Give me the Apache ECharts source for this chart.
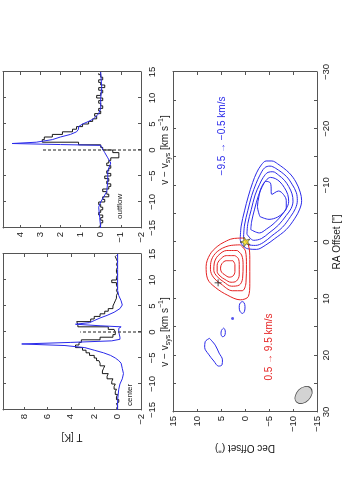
<!DOCTYPE html>
<html>
<head>
<meta charset="utf-8">
<script src="https://cdn.jsdelivr.net/npm/echarts/dist/echarts.min.js"></script>
<style>
html, body { margin: 0; padding: 0; background: #fff; overflow: hidden; }
#wrap { position: relative; width: 353px; height: 500px; overflow: hidden; }
/* the figure is drawn landscape and turned a quarter turn, like the reference */
#chart { position: absolute; left: 0; top: 0; width: 500px; height: 353px;
         transform-origin: 0 0; transform: translate(0px, 500px) rotate(-90deg); }
</style>
</head>
<body>
<div id="wrap"><div id="chart"></div></div>
<script>
// channel velocities (km/s, bin centres)
var vel = [-14.75,-14.25,-13.75,-13.25,-12.75,-12.25,-11.75,-11.25,-10.75,-10.25,
           -9.75,-9.25,-8.75,-8.25,-7.75,-7.25,-6.75,-6.25,-5.75,-5.25,
           -4.75,-4.25,-3.75,-3.25,-2.75,-2.25,-1.75,-1.25,-0.75,-0.25,
           0.25,0.75,1.25,1.75,2.25,2.75,3.25,3.75,4.25,4.75,
           5.25,5.75,6.25,6.75,7.25,7.75,8.25,8.75,9.25,9.75,
           10.25,10.75,11.25,11.75,12.25,12.75,13.25,13.75,14.25,14.75];
// observed spectra T [K]
var centerObs = [0.1,0.0,0.1,-0.1,0.1,0.0,0.2,0.1,0.3,0.2,
                 0.5,0.4,0.9,0.8,1.3,1.2,1.1,1.5,1.6,1.8,
                 2.0,2.4,2.7,3.0,3.6,3.3,3.1,1.5,0.4,0.2,
                 0.3,0.8,3.4,3.5,2.3,2.0,1.5,1.1,0.8,0.4,
                 0.3,0.2,0.1,0.1,0.0,0.1,0.0,0.1,0.1,0.5,
                 0.1,0.0,0.1,0.1,0.0,0.1,0.0,0.1,0.2,0.1];
var outflowObs = [0.1,0.0,-0.1,0.0,-0.1,0.1,0.0,-0.1,0.0,0.1,
                  -0.2,-0.1,-0.4,-0.3,-0.1,-0.4,-0.5,-0.3,-0.4,-0.2,
                  -0.5,-0.3,-0.4,-0.5,-0.3,-0.4,-0.5,-0.9,-0.9,-0.6,
                  -0.1,0.0,1.1,2.9,2.8,2.4,1.9,1.4,1.2,0.9,
                  0.6,0.4,0.2,0.3,0.0,0.1,-0.1,0.0,0.1,-0.1,
                  0.2,0.0,-0.1,0.1,-0.2,0.0,0.1,-0.1,0.0,0.1];
// model curves [v, T]
var centerModel = [[-15,0.0],[-13,0.0],[-11,-0.1],[-10,-0.2],[-9,-0.4],[-8,-0.5],[-7,-0.4],[-6,-0.3],
                   [-5.5,-0.1],[-5,0.2],[-4.5,0.6],[-4,1.2],[-3.5,2.0],[-3,2.8],[-2.6,4.5],[-2.3,8.2],
                   [-2.0,4.0],[-1.7,0.5],[-1.4,-0.2],[-1.0,-0.2],[0,-0.1],[0.7,-0.1],[1.0,-0.3],[1.2,1.5],
                   [1.5,3.6],[1.8,2.4],[2.2,2.0],[2.7,1.5],[3.2,0.9],[3.8,0.3],[4.5,-0.2],[5.2,-0.4],
                   [6,-0.3],[7,-0.1],[8,0.0],[10,0.0],[12,0.0],[15,0.0]];
var outflowModel = [[-15,0.0],[-13,0.05],[-11,0.1],[-10,0.0],[-9,-0.15],[-8,-0.3],[-6,-0.35],[-4,-0.35],
                    [-3,-0.45],[-2.5,-0.5],[-1.5,-0.35],[-0.5,-0.2],[0.5,-0.05],[0.9,0.0],[1.05,2.0],
                    [1.25,4.4],[1.5,3.2],[2.0,2.4],[2.5,2.0],[3.0,1.5],[3.5,1.2],[4.0,1.1],[4.5,1.1],
                    [5.0,0.9],[5.5,0.6],[6.0,0.35],[7.0,0.1],[8.0,0.0],[10,0.0],[12,-0.05],[15,0.0]];
var centerDash = [[0,-2],[0,3.2]];
var outflowDash = [[0,-2],[0,2.9]];

// map contours [RA offset, Dec offset] (arcsec)
var blueLevels = [
  [[-0.4,1.0],[-2.8,0.8],[-5.5,0.1],[-8.1,-0.7],[-10.5,-1.6],[-12.2,-2.4],[-13.6,-3.4],[-14.3,-4.4],[-14.3,-5.6],[-13.8,-6.8],[-12.2,-9.2],[-10.6,-10.6],[-8.8,-11.5],[-7.3,-11.8],[-5.8,-11.4],[-4.2,-10.4],[-2.2,-8.6],[-0.6,-6.2],[0.6,-4.2],[1.3,-2.4],[1.2,-0.6],[0.5,0.6],[-0.4,1.0]],
  [[-0.8,0.3],[-3.0,0.1],[-5.6,-0.6],[-8.2,-1.4],[-10.3,-2.3],[-11.8,-3.1],[-13.1,-4.1],[-13.4,-5.2],[-13.0,-6.4],[-11.6,-8.6],[-10.2,-9.8],[-8.7,-10.7],[-7.3,-10.9],[-5.9,-10.5],[-4.5,-9.5],[-2.6,-7.8],[-1.1,-5.6],[0.1,-3.8],[0.6,-2.2],[0.4,-0.6],[-0.8,0.3]],
  [[-1.4,-0.4],[-3.3,-0.6],[-5.7,-1.3],[-8.3,-2.1],[-10.1,-3.0],[-11.4,-3.8],[-12.3,-4.8],[-12.4,-5.8],[-11.8,-7.0],[-10.9,-8.2],[-9.8,-9.1],[-8.5,-9.8],[-7.2,-10.0],[-5.9,-9.6],[-4.7,-8.6],[-3.0,-7.0],[-1.6,-5.0],[-0.6,-3.4],[-0.3,-1.8],[-1.4,-0.4]],
  [[-2.2,-1.2],[-3.7,-1.4],[-5.8,-2.0],[-8.2,-2.8],[-9.8,-3.6],[-10.9,-4.4],[-11.4,-5.3],[-11.2,-6.3],[-10.6,-7.3],[-9.6,-8.2],[-8.4,-8.9],[-7.1,-9.1],[-5.9,-8.6],[-4.8,-7.7],[-3.4,-6.2],[-2.3,-4.5],[-1.6,-3.0],[-2.2,-1.2]],
  [[-4.5,-3.1],[-6.3,-2.6],[-8.0,-2.9],[-9.6,-3.4],[-10.7,-4.4],[-10.4,-5.3],[-8.4,-5.6],[-9.0,-7.0],[-8.4,-8.0],[-7.3,-8.6],[-6.0,-8.6],[-5.2,-8.0],[-4.4,-6.8],[-4.0,-5.0],[-4.5,-3.1]]
];
var blueBlobs = [
  [[10.5,0.6],[10.9,1.1],[11.6,1.2],[12.3,1.0],[12.6,0.5],[12.2,0.1],[11.4,0.0],[10.7,0.2],[10.5,0.6]],
  [[15.2,4.5],[15.6,4.9],[16.2,5.0],[16.7,4.7],[16.6,4.3],[16.0,4.1],[15.4,4.2],[15.2,4.5]],
  [[17.0,7.4],[17.6,8.3],[18.6,8.4],[19.8,7.6],[21.0,6.5],[21.9,5.5],[21.7,4.8],[20.8,4.7],[19.6,5.4],[18.2,6.2],[17.0,7.4]]
];
var blueDot = [[13.5,2.6]];
var redLevels = [
  [[-0.7,0.4],[-0.6,2.5],[0.0,4.3],[0.8,5.8],[2.2,7.3],[4.3,8.1],[6.5,7.8],[8.0,6.2],[9.4,3.6],[10.2,1.0],[9.6,-0.7],[7.3,-1.0],[3.1,-1.0],[0.5,-0.7],[-0.7,0.4]],
  [[0.5,1.0],[0.7,3.5],[1.7,5.8],[3.2,7.0],[4.8,7.2],[6.2,6.6],[7.4,5.0],[8.6,2.6],[8.6,0.6],[7.2,-0.2],[4.0,-0.3],[1.6,-0.1],[0.5,1.0]],
  [[1.5,1.6],[1.5,3.8],[2.4,5.6],[3.7,6.4],[5.0,6.5],[6.1,5.8],[7.0,4.5],[7.8,2.8],[7.6,1.2],[6.4,0.5],[4.0,0.4],[2.3,0.7],[1.5,1.6]],
  [[2.4,2.1],[2.4,3.9],[3.1,5.2],[4.1,5.8],[5.2,5.8],[6.0,5.2],[6.6,4.2],[7.1,2.9],[6.9,1.8],[5.8,1.2],[4.0,1.2],[2.9,1.4],[2.4,2.1]],
  [[3.3,2.5],[3.3,3.9],[3.8,4.8],[4.6,5.1],[5.3,4.9],[5.8,4.2],[6.2,3.3],[6.0,2.5],[5.2,2.1],[4.0,2.1],[3.3,2.5]]
];
var starPos = [[0,0]];
var plusPos = [[7.2,5.6]];
var beamPos = [[27.0,-12.2]];

var FONT = 'Liberation Sans';
var BLUE = '#2a2aea';
var RED = '#e52222';
var AX = '#555';

function minus(v) { return String(v).replace('-', '\u2212'); }

function axis(o) {
    return Object.assign({
        type: 'value',
        axisLine: { show: true, onZero: false, lineStyle: { color: AX, width: 1 } },
        axisTick: { show: true, inside: true, length: 3, lineStyle: { color: AX } },
        splitLine: { show: false },
        axisLabel: { show: false }
    }, o);
}
function labels(step, margin) {
    return {
        show: true, color: '#222', fontSize: 9.5, fontFamily: FONT, margin: margin,
        formatter: function (v) {
            return Math.abs(v / step - Math.round(v / step)) < 1e-6 ? minus(v) : '';
        }
    };
}
var velName = '{a|v \u2212 v}{s|sys}{a| [km s}{p|\u22121}{a|]}';
var velNameStyle = {
    color: '#222', fontFamily: FONT,
    rich: {
        a: { fontSize: 10, lineHeight: 14, fontFamily: FONT, color: '#222' },
        s: { fontSize: 7, lineHeight: 7, verticalAlign: 'bottom', fontFamily: FONT, color: '#222' },
        p: { fontSize: 7, lineHeight: 7, verticalAlign: 'top', fontFamily: FONT, color: '#222' }
    }
};

function pairs(xs, ys) {
    return xs.map(function (x, i) { return [x, ys[i]]; });
}
function contour(pts, color, w) {
    return {
        type: 'line', xAxisIndex: 4, yAxisIndex: 4, data: pts, showSymbol: false,
        smooth: 0.35, lineStyle: { color: color, width: w }, silent: true, z: 3
    };
}

var chart = echarts.init(document.getElementById('chart'));
var series = [
    { type: 'line', xAxisIndex: 0, yAxisIndex: 0, data: pairs(vel, centerObs), step: 'middle',
      showSymbol: false, lineStyle: { color: '#000', width: 0.9 } },
    { type: 'line', xAxisIndex: 0, yAxisIndex: 0, data: centerModel, showSymbol: false,
      lineStyle: { color: BLUE, width: 1 } },
    { type: 'line', xAxisIndex: 0, yAxisIndex: 0, data: centerDash, showSymbol: false,
      lineStyle: { color: '#444', width: 1.2, type: [3, 2] } },
    { type: 'line', xAxisIndex: 2, yAxisIndex: 2, data: pairs(vel, outflowObs), step: 'middle',
      showSymbol: false, lineStyle: { color: '#000', width: 0.9 } },
    { type: 'line', xAxisIndex: 2, yAxisIndex: 2, data: outflowModel, showSymbol: false,
      lineStyle: { color: BLUE, width: 1 } },
    { type: 'line', xAxisIndex: 2, yAxisIndex: 2, data: outflowDash, showSymbol: false,
      lineStyle: { color: '#444', width: 1.2, type: [3, 2] } }
];
blueLevels.forEach(function (c) { series.push(contour(c, BLUE, 1)); });
blueBlobs.forEach(function (c) { series.push(contour(c, BLUE, 1)); });
redLevels.forEach(function (c) { series.push(contour(c, RED, 1)); });
series.push({ type: 'scatter', xAxisIndex: 4, yAxisIndex: 4, data: blueDot, symbol: 'circle',
              symbolSize: 3, itemStyle: { color: BLUE }, z: 4 });
series.push({ type: 'scatter', xAxisIndex: 4, yAxisIndex: 4, data: beamPos, symbol: 'circle',
              symbolSize: [20, 14], symbolRotate: -45,
              itemStyle: { color: '#c8c8c8', borderColor: '#222', borderWidth: 0.8 }, z: 4 });
series.push({ type: 'scatter', xAxisIndex: 4, yAxisIndex: 4, data: plusPos,
              symbol: 'path://M0,5L10,5M5,0L5,10', symbolSize: 7,
              itemStyle: { color: 'none', borderColor: '#222', borderWidth: 1 }, z: 5 });
series.push({ type: 'scatter', xAxisIndex: 4, yAxisIndex: 4, data: starPos,
              symbol: 'path://M50,0L61,35L98,35L68,57L79,91L50,70L21,91L32,57L2,35L39,35Z',
              symbolSize: 10, itemStyle: { color: '#f7e617', borderColor: '#333', borderWidth: 0.8 }, z: 6 });

var option = {
    animation: false,
    backgroundColor: '#fff',
    textStyle: { fontFamily: FONT },
    grid: [
        { left: 90, width: 156, top: 3, height: 138 },
        { left: 272, width: 156, top: 3, height: 138 },
        { left: 88, width: 340, top: 173, height: 144 }
    ],
    xAxis: [
        axis({ gridIndex: 0, min: -15, max: 15, interval: 5, axisLabel: labels(5, 6),
               name: velName, nameLocation: 'middle', nameGap: 15, nameTextStyle: velNameStyle }),
        axis({ gridIndex: 0, position: 'top', min: -15, max: 15, interval: 5 }),
        axis({ gridIndex: 1, min: -15, max: 15, interval: 5, axisLabel: labels(5, 6),
               name: velName, nameLocation: 'middle', nameGap: 15, nameTextStyle: velNameStyle }),
        axis({ gridIndex: 1, position: 'top', min: -15, max: 15, interval: 5 }),
        axis({ gridIndex: 2, min: -30, max: 30, interval: 5, inverse: true, axisLabel: labels(10, 4),
               name: 'RA Offset ["]', nameLocation: 'middle', nameGap: 15,
               nameTextStyle: { fontSize: 10, color: '#222', fontFamily: FONT } }),
        axis({ gridIndex: 2, position: 'top', min: -30, max: 30, interval: 5, inverse: true })
    ],
    yAxis: [
        axis({ gridIndex: 0, min: -2, max: 9.8, interval: 2, axisLabel: labels(2, 4),
               name: 'T [K]', nameLocation: 'middle', nameRotate: 90, nameGap: 22,
               nameTextStyle: { fontSize: 10, color: '#222', fontFamily: FONT } }),
        axis({ gridIndex: 0, position: 'right', min: -2, max: 9.8, interval: 2 }),
        axis({ gridIndex: 1, min: -2, max: 4.85, interval: 1, axisLabel: labels(1, 4) }),
        axis({ gridIndex: 1, position: 'right', min: -2, max: 4.85, interval: 1 }),
        axis({ gridIndex: 2, min: -15, max: 15, interval: 5, axisLabel: labels(5, 4),
               name: 'Dec Offset (")', nameLocation: 'middle', nameRotate: 90, nameGap: 14,
               nameTextStyle: { fontSize: 10, color: '#222', fontFamily: FONT } }),
        axis({ gridIndex: 2, position: 'right', min: -15, max: 15, interval: 5 })
    ],
    graphic: [
        { type: 'text', x: 94, y: 130, style: { text: 'center', font: '8px Liberation Sans',
          fill: '#222', verticalAlign: 'middle' } },
        { type: 'text', x: 281, y: 120, style: { text: 'outflow', font: '8px Liberation Sans',
          fill: '#222', verticalAlign: 'middle' } },
        { type: 'text', x: 364, y: 222, style: { text: '\u22129.5 \u2192 \u22120.5 km/s',
          font: '10px Liberation Sans', fill: BLUE, align: 'center', verticalAlign: 'middle' } },
        { type: 'text', x: 153, y: 269, style: { text: '0.5 \u2192 9.5 km/s',
          font: '10px Liberation Sans', fill: RED, align: 'center', verticalAlign: 'middle' } }
    ],
    series: series
};
chart.setOption(option);
</script>
</body>
</html>
